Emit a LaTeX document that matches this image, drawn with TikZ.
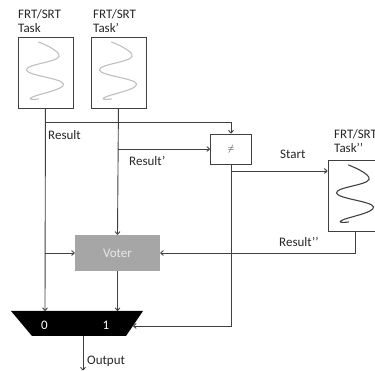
\documentclass[tikz,border=0pt]{standalone}
\usepackage{fontspec}
\setmainfont{Carlito}
\usetikzlibrary{arrows.meta}
\definecolor{lc}{HTML}{404040}
\definecolor{txt}{HTML}{262626}
\definecolor{wavelight}{HTML}{BFBFBF}
\definecolor{wavedark}{HTML}{404040}
\definecolor{votefill}{HTML}{A6A6A6}
\definecolor{votetxt}{HTML}{E8E8E8}
\begin{document}
\begin{tikzpicture}[x=1pt,y=-1pt,
  ln/.style={draw=lc, line width=0.9pt},
  arr/.style={ln, -{To[length=3.5pt,width=5.5pt]}},
  lbl/.style={font=\fontsize{13}{14}\selectfont, text=txt, anchor=base west, inner sep=0pt},
  taskbox/.style={draw=lc, line width=0.9pt, minimum width=55pt, minimum height=71pt, inner sep=0pt, anchor=north west},
  wave/.style={line width=1.1pt, line cap=round},
  votebox/.style={fill=votefill, draw=none, minimum width=85pt, minimum height=36pt, inner sep=0pt, text=votetxt, font=\fontsize{13}{14}\selectfont},
  nebox/.style={draw=lc, line width=0.9pt, fill=white, minimum width=41pt, minimum height=30pt, inner sep=0pt, font=\fontsize{9}{10}\selectfont, text=txt},
  muxlbl/.style={text=white, font=\fontsize{13}{14}\selectfont, inner sep=0pt},
]
\useasboundingbox (0,0) rectangle (375,371);
\clip (0,0) rectangle (375,371);

% task boxes
\node[taskbox] (t1) at (17.5,37) {};
\node[taskbox] (t2) at (90.5,37) {};
\node[taskbox] (t3) at (327.5,160) {};

\foreach \b/\c in {t1/wavelight, t2/wavelight, t3/wavedark}{
  \begin{scope}[shift={(\b.north west)}]
    \draw[wave, draw=\c] plot[smooth, tension=0.75] coordinates {(21,5) (41.5,19.5) (9,33) (46,47) (14,60.5) (21,62)};
  \end{scope}
}

% labels of tasks
\node[lbl] (l1a) at (18,19) {FRT/SRT};
\node[lbl] (l1b) at (18,33) {Task};
\node[lbl] (l2a) at (93,19) {FRT/SRT};
\node[lbl] (l2b) at (93,33) {Task’};
\node[lbl] (l3a) at (334,138.5) {FRT/SRT};
\node[lbl] (l3b) at (334,153) {Task’’};

% comparator and voter
\node[nebox] (ne) at (231,149) {$\neq$};
\node[votebox] (voter) at (117.5,253) {Voter};

% multiplexer
\coordinate (m0) at (45,311);
\coordinate (m1) at (117.5,311);
\coordinate (mr) at (133,326);
\coordinate (mo) at (83,336);
\coordinate (outend) at (83,370.5);
\fill[black] (11,311) -- (143,311) -- (126,336) -- (32,336) -- cycle;
\node[muxlbl] (mux0) at (44.5,325.5) {0};
\node[muxlbl] (mux1) at (106,325.5) {1};

% junctions
\coordinate (j1) at (45,122);
\coordinate (j2) at (118,149);
\coordinate (j3) at (231,171);
\coordinate (j4) at (45,253);

% connectors
\draw[arr] (t1.south) -- (m0);
\draw[arr] (t2.south) -- (voter.north);
\draw[arr] (j1) -| (ne.north);
\draw[arr] (j2) -- (ne.west);
\draw[arr] (ne.south) |- (mr);
\draw[arr] (j3) -- (t3.west |- j3);
\draw[arr] (t3.south) |- (voter.east);
\draw[arr] (j4) -- (voter.west);
\draw[arr] (voter.south) -- (m1);
\draw[arr] (mo) -- (outend);

% connector labels
\node[lbl] (lres) at (48,140) {Result};
\node[lbl] (lres2) at (129,165.5) {Result’};
\node[lbl] (lstart) at (280,159) {Start};
\node[lbl] (lres3) at (279,246.5) {Result’’};
\node[lbl] (lout) at (87,365) {Output};
\end{tikzpicture}
\end{document}
